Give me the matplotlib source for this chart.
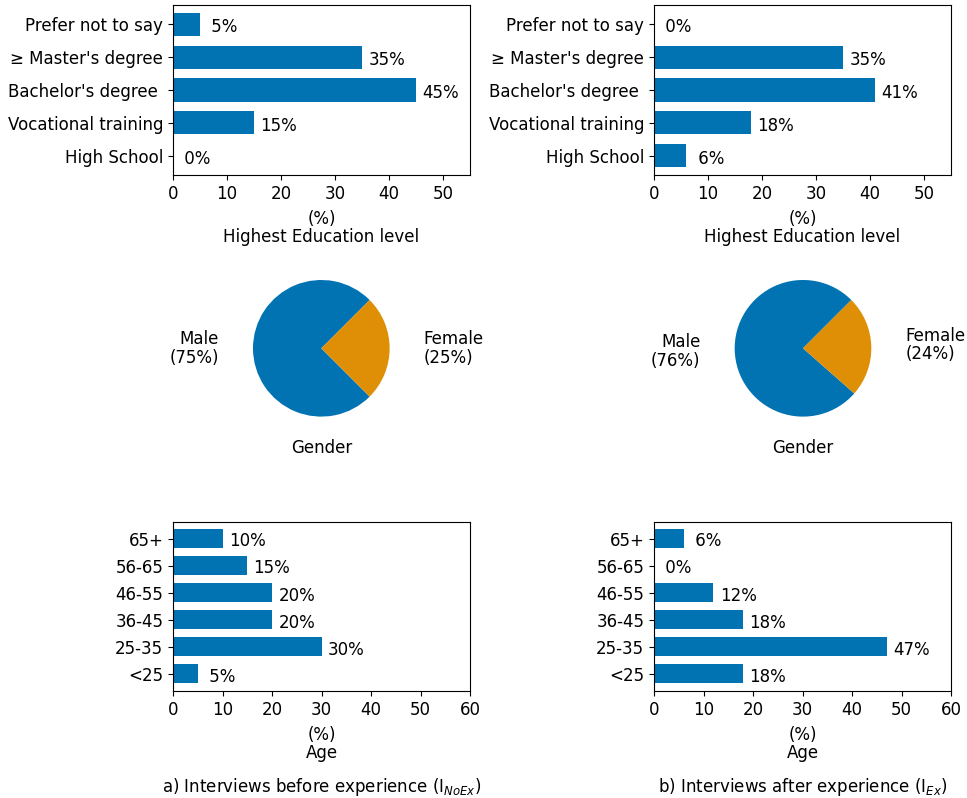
import matplotlib.pyplot as plt

# Farben (seaborn colorblind)
BLUE = "#0173B2"
ORANGE = "#DE8F05"
FS = 12

# Daten
edu_labels = ["High School", "Vocational training", "Bachelor's degree ",
              "≥ Master's degree", "Prefer not to say"]
edu_noex = [0, 15, 45, 35, 5]
edu_ex = [6, 18, 41, 35, 0]

gender_labels = ["Male", "Female"]
gender_noex = [75, 25]
gender_ex = [76, 24]

age_labels = ["<25", "25-35", "36-45", "46-55", "56-65", "65+"]
age_noex = [5, 30, 20, 20, 15, 10]
age_ex = [18, 47, 18, 12, 0, 6]

captions = ["a) Interviews before experience (I$_{NoEx}$)",
            "b) Interviews after experience (I$_{Ex}$)"]

W, H = 967, 798
fig = plt.figure(figsize=(W / 100, H / 100), dpi=100)


def px_axes(x0, y0, x1, y1):
    # Achsen in Pixelkoordinaten (oben links = 0,0)
    return fig.add_axes([x0 / W, 1 - y1 / H, (x1 - x0) / W, (y1 - y0) / H])


def barh_panel(ax, labels, values, xmax, xlabel):
    ax.barh(labels, values, height=0.7, color=BLUE)
    # Beschriftung leicht unter der Balkenmitte
    for i, v in enumerate(values):
        ax.annotate(f"{v:2d}%", xy=(v, i), xytext=(4.5, -2), textcoords="offset points",
                    va="center", ha="left", fontsize=FS)
    ax.set_xlim(0, xmax)
    ax.set_xticks(range(0, xmax + 1, 10) if xmax == 60 else range(0, 51, 10))
    ax.set_xlabel("(%)\n" + xlabel, fontsize=FS, labelpad=5, linespacing=1.05)
    ax.tick_params(labelsize=FS)


def pie_panel(ax, values):
    lbls = [f"{l}\n({v}%)" for l, v in zip(gender_labels, values)]
    _, texts = ax.pie(values, labels=lbls, colors=[BLUE, ORANGE], startangle=45,
                      labeldistance=1.5, textprops={"fontsize": FS})
    for t in texts:
        t.set_linespacing(1.05)
    ax.set_xlim(-1.25, 1.25)
    ax.set_ylim(-1.25, 1.25)
    ax.set_xlabel("Gender", fontsize=FS, labelpad=4)


cols = [(173, 470, 321.3, edu_noex, gender_noex, age_noex),
        (654, 951, 803, edu_ex, gender_ex, age_ex)]

for (x0, x1, pc, edu, gen, age), cap in zip(cols, captions):
    ax1 = px_axes(x0, 5, x1, 175)
    barh_panel(ax1, edu_labels, edu, 55, "Highest Education level")

    r = 85.4
    ax2 = px_axes(pc - r, 348.3 - r, pc + r, 348.3 + r)
    pie_panel(ax2, gen)

    ax3 = px_axes(x0, 521.5, x1, 691)
    barh_panel(ax3, age_labels, age, 60, "Age")

    fig.text((x0 + x1) / 2 / W, 1 - 787 / H, cap, ha="center", va="center", fontsize=FS)

fig.savefig("out.png", dpi=100)
